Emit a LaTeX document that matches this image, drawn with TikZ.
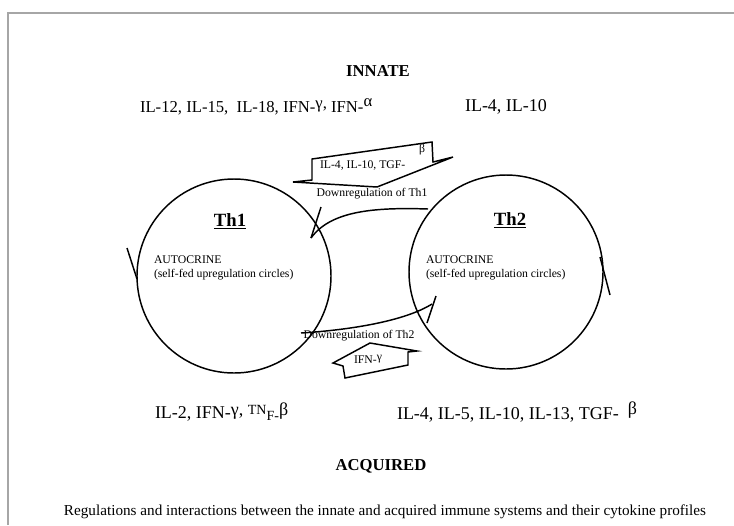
\documentclass[tikz,border=0pt]{standalone}
\usepackage{fontspec}
\setmainfont{Liberation Serif}

\begin{document}
\begin{tikzpicture}[x=0.75pt, y=-0.75pt, every node/.style={inner sep=0pt, outer sep=0pt},
    pen/.style={line width=1.1pt},
    title/.style={font=\bfseries\fontsize{12.5}{14}\selectfont},
    cyto/.style={anchor=west, font=\fontsize{13.5}{15}\selectfont},
    small/.style={font=\fontsize{8.8}{10.5}\selectfont},
    cell/.style={circle, draw, pen, minimum size=145.5pt}]

    \useasboundingbox (0,0) rectangle (734,525);
    \draw[gray!70, line width=1.2pt] (8,525) -- (8,13) -- (734,13);

    % Titoli e citochine
    \node[title] (innate) at (378,71) {INNATE};
    \node[cyto, font=\fontsize{12.5}{15}\selectfont] (innatel) at (140,107) {IL-12, IL-15,\ \ IL-18, IFN-\raisebox{.45ex}{γ,} IFN-\raisebox{.7ex}{α}};
    \node[cyto] (innater) at (465,107) {IL-4, IL-10};
    \node[cyto] (acql) at (155,412) {IL-2, IFN-\raisebox{.45ex}{γ,} \raisebox{.5ex}{\fontsize{10.5}{11}\selectfont TN}\raisebox{-.2ex}{\fontsize{10.5}{11}\selectfont F-}\raisebox{.45ex}{β}};
    \node[cyto] (acqr) at (397,412) {IL-4, IL-5, IL-10, IL-13, TGF-\ \ \raisebox{.6ex}{β}};
    \node[title] (acquired) at (381,466) {ACQUIRED};
    \node[font=\fontsize{11.4}{13}\selectfont] (caption) at (385,512) {Regulations and interactions between the innate and acquired immune systems and their cytokine profiles};

    % Cellule
    \node[cell] (th1) at (234,276) {};
    \node[cell] (th2) at (506,272) {};
    \node[font=\bfseries\fontsize{14}{16}\selectfont] (th1l) at (230,221) {\underline{Th1}};
    \node[font=\bfseries\fontsize{14}{16}\selectfont] (th2l) at (510,220) {\underline{Th2}};
    \node[small, align=left, anchor=north west] (auto1) at (154,256) {AUTOCRINE\\(self-fed upregulation circles)};
    \node[small, align=left, anchor=north west] (auto2) at (426,256) {AUTOCRINE\\(self-fed upregulation circles)};

    % Frecce di rotazione
    \coordinate (r1a) at (127,248);
    \coordinate (r1b) at (137,279);
    \coordinate (r2a) at (600,257);
    \coordinate (r2b) at (610,295);
    \draw[pen] (r1a) -- (r1b);
    \draw[pen] (r2a) -- (r2b);

    % Freccia IL-4, IL-10, TGF-beta
    \draw[pen, line join=miter] (312,159) -- (432,142) -- (433,162) -- (453,157) -- (377,187) -- (293,182) -- (312,180) -- cycle;
    \node[small, anchor=west] (tgf) at (320,165) {IL-4, IL-10, TGF-};
    \node[small] (beta) at (422,150) {β};
    \node[small] (down1) at (372,194) {Downregulation of Th1};

    % Freccia IFN-gamma
    \draw[pen, line join=miter] (333,363) -- (343,366) -- (345,378) -- (408,365) -- (408,352) -- (417,351) -- (370,343) -- cycle;
    \node[small] (ifn) at (368,359) {IFN-\raisebox{.6ex}{γ}};
    \node[small] (down2) at (359,336) {Downregulation of Th2};

    % Archi
    \coordinate (d1s) at (428,209);
    \coordinate (d1e) at (311,238);
    \coordinate (d1t) at (321,207);
    \draw[pen] (d1s) .. controls (370,207) and (330,212) .. (d1e);
    \draw[pen] (d1t) -- (d1e);
    \coordinate (d2s) at (301,333);
    \coordinate (d2e) at (432,304);
    \coordinate (d2t) at (436,296);
    \coordinate (d2u) at (427,323);
    \draw[pen] (d2s) .. controls (350,330) and (405,321) .. (d2e);
    \draw[pen] (d2t) -- (d2u);
\end{tikzpicture}
\end{document}
